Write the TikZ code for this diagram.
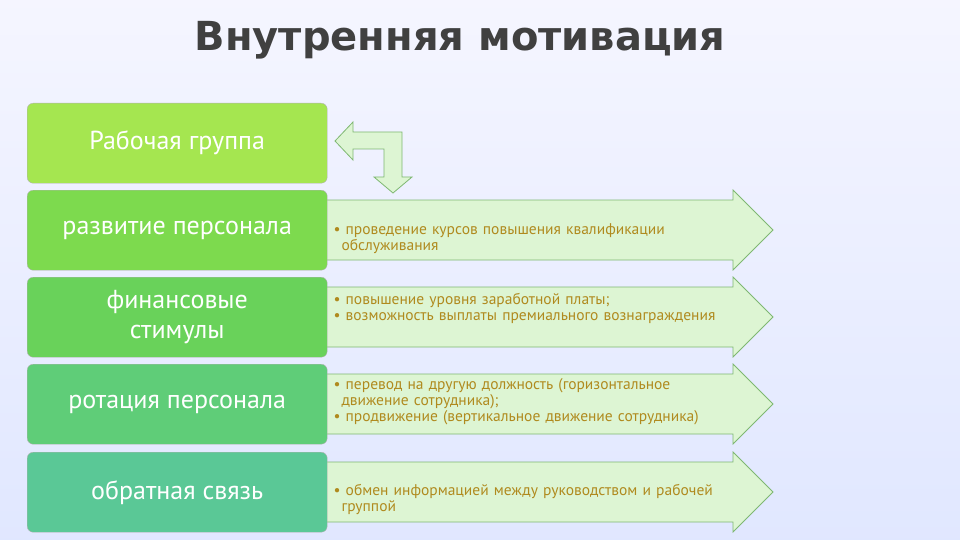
\documentclass[tikz,border=0pt]{standalone}
\usepackage{fontspec}
\setmainfont{PT Sans}
\newfontfamily\titlefont{DejaVu Sans}
\begin{document}
\begin{tikzpicture}[x=1pt,y=-1pt,
  lbox/.style={draw=gray!60,rounded corners=6pt,minimum width=300pt,minimum height=80pt,anchor=north west,align=center,text=white,font=\fontsize{26}{30}\selectfont,inner sep=2pt},
  rtext/.style={anchor=west,align=left,text=txt,font=\fontsize{15.5}{16}\selectfont,text width=440pt},
  arr/.style={draw=arrowline,fill=arrowfill,line width=0.8pt}]
\definecolor{txt}{HTML}{B08A1E}
\definecolor{arrowfill}{HTML}{DDF5D3}
\definecolor{arrowline}{HTML}{7FB872}
\useasboundingbox (0,0) rectangle (960,540);
\shade[top color=cyan!6!blue!4!white, bottom color=cyan!22!blue!12!white] (0,0) rectangle (960,540);
\node[font=\titlefont\bfseries\fontsize{40}{42}\selectfont,text=black!75] (titletext) at (460,40) {Внутренняя мотивация};
\foreach \t/\n in {190/a2,277/a3,364/a4,452/a5}{
  \draw[arr] (320,\t+10) -- (733,\t+10) -- (733,\t) -- (773,\t+40) -- (733,\t+80) -- (733,\t+70) -- (320,\t+70) -- cycle;
}
\draw[arr] (335,141) -- (353,122) -- (353,132) -- (402,132) -- (402,177) -- (412,177) -- (393,193) -- (374,177) -- (384,177) -- (384,149) -- (353,149) -- (353,160) -- cycle;
\node[lbox,fill={rgb,255:red,165;green,230;blue,80}] (b1) at (27,103) {Рабочая группа};
\node[lbox,fill={rgb,255:red,125;green,218;blue,78}] (b2) at (27,190) {развитие персонала};
\node[lbox,fill={rgb,255:red,105;green,210;blue,90}] (b3) at (27,277) {финансовые\\стимулы};
\node[lbox,fill={rgb,255:red,95;green,205;blue,120}] (b4) at (27,364) {ротация персонала};
\node[lbox,fill={rgb,255:red,90;green,200;blue,150}] (b5) at (27,452) {обратная связь};
\node[rtext] (t2) at (330,239) {\textbullet\ проведение курсов повышения квалификации\\\hspace*{8pt}обслуживания};
\node[rtext] (t3) at (330,308) {\textbullet\ повышение уровня заработной платы;\\\textbullet\ возможность выплаты премиального вознаграждения};
\node[rtext] (t4) at (330,402) {\textbullet\ перевод на другую должность (горизонтальное\\\hspace*{8pt}движение сотрудника);\\\textbullet\ продвижение (вертикальное движение сотрудника)};
\node[rtext] (t5) at (330,499) {\textbullet\ обмен информацией между руководством и рабочей\\\hspace*{8pt}группой};
\end{tikzpicture}
\end{document}
